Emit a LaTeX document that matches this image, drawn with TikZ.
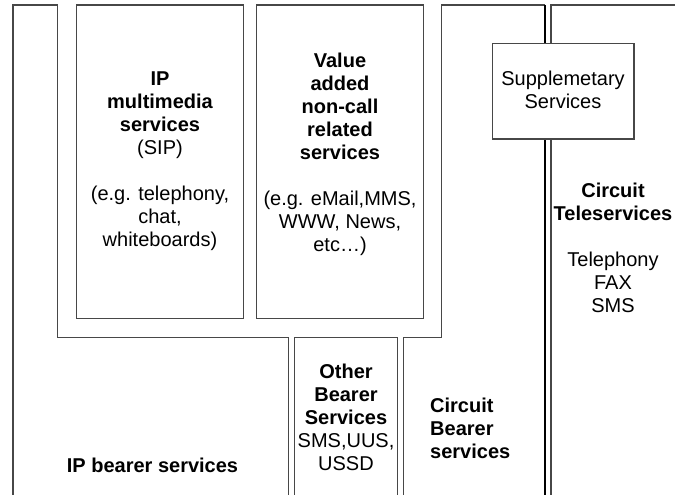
\documentclass[tikz,border=0pt]{standalone}
\usepackage{fontspec}
\setmainfont{Liberation Sans}
\begin{document}
\begin{tikzpicture}[x=1pt,y=-1pt,
  frame/.style={draw=black!72,line width=1.1pt},
  dark/.style={draw=black,line width=1.1pt},
  lbl/.style={align=center,inner sep=0pt,font=\fontsize{20}{23}\selectfont}]
\useasboundingbox (0,0) rectangle (675,495);
\clip (0,0) rectangle (675,495);
% IP bearer services region
\draw[frame] (13,505) -- (13,5) -- (57.7,5) -- (57.7,337.7) -- (288.7,337.7) -- (288.7,505);
% IP multimedia box
\draw[frame] (76.7,5) rectangle (243.3,318.3);
% Value added box
\draw[frame] (256.3,5) rectangle (423.3,318.3);
% Other bearer
\draw[frame] (294.3,505) -- (294.3,337.7) -- (397.3,337.7) -- (397.3,505);
% Circuit bearer
\draw[frame] (403.3,505) -- (403.3,337.7) -- (441.7,337.7) -- (441.7,5) -- (545,5);
\draw[dark] (545,5) -- (545,505);
% Circuit teleservices
\draw[frame] (551,505) -- (551,5) -- (690,5);
% Supplementary box
\draw[frame,fill=white] (492.7,43.3) rectangle (634,139);

\node[lbl] (ipmm) at (160,161.5) {{\bfseries IP}\\{\bfseries multimedia}\\{\bfseries services}\\(SIP)\\[23pt](e.g. telephony,\\chat,\\whiteboards)};
\node[lbl] (vas) at (340,154.5) {{\bfseries Value}\\{\bfseries added}\\{\bfseries non-call}\\{\bfseries related}\\{\bfseries services}\\[23pt](e.g. eMail,MMS,\\WWW, News,\\etc\ldots)};
\node[lbl] (supp) at (563,90) {Supplemetary\\Services};
\node[lbl] (ctele) at (613,248) {{\bfseries Circuit}\\{\bfseries Teleservices}\\[23pt]Telephony\\FAX\\SMS};
\node[lbl] (obs) at (346,417) {{\bfseries Other}\\{\bfseries Bearer}\\{\bfseries Services}\\SMS,UUS,\\USSD};
\node[lbl,align=left,anchor=west,font=\fontsize{20}{23}\selectfont\bfseries] (cbs) at (430,428.5) {Circuit\\Bearer\\services};
\node[lbl,font=\fontsize{20}{23}\selectfont\bfseries] (ipb) at (152.5,465) {IP bearer services};
\end{tikzpicture}
\end{document}
